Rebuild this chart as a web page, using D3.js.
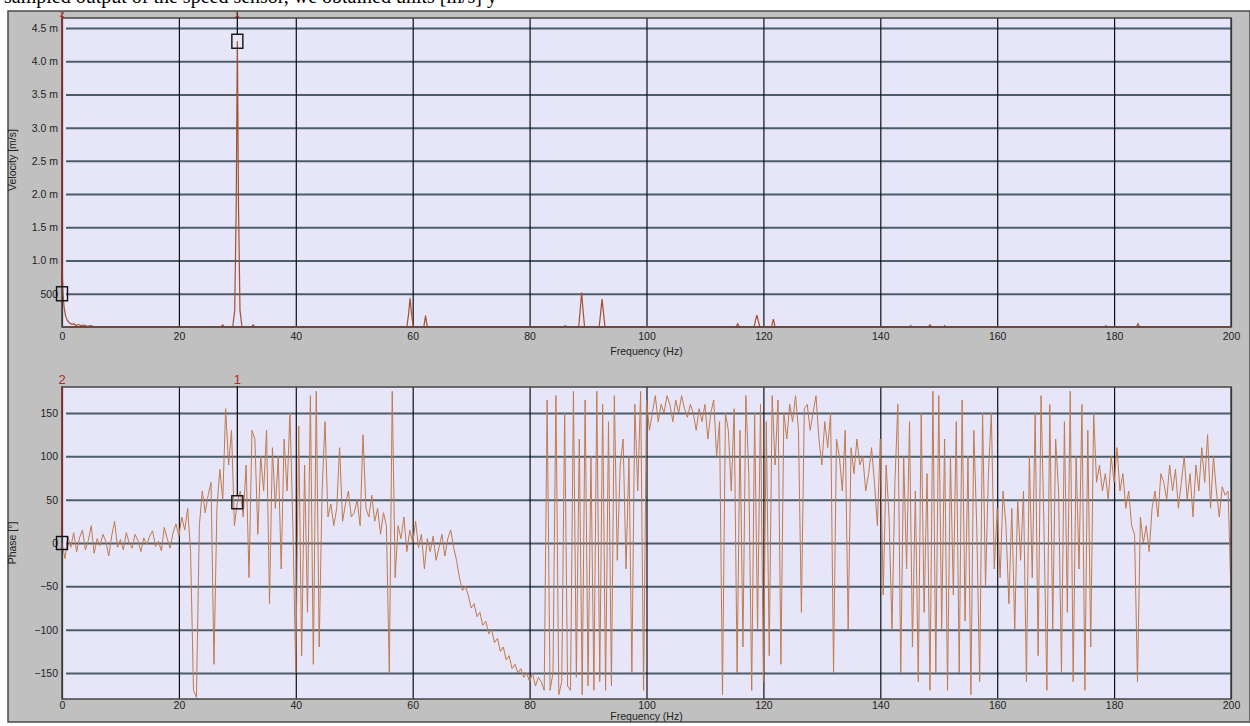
<!DOCTYPE html>
<html>
<head>
<meta charset="utf-8">
<script src="https://cdn.jsdelivr.net/npm/d3@7"></script>
<style>
  html, body { margin: 0; padding: 0; background: #ffffff; }
  svg { display: block; }
  text { font-family: "Liberation Sans", Arial, sans-serif; }
</style>
</head>
<body>
<svg id="chart" width="1250" height="726"></svg>
<script>
// ---------------- DATA ----------------
const freqTicks = [0, 20, 40, 60, 80, 100, 120, 140, 160, 180, 200];
const velTicks = [0.5, 1.0, 1.5, 2.0, 2.5, 3.0, 3.5, 4.0, 4.5];
const velTickLabels = ["500", "1.0 m", "1.5 m", "2.0 m", "2.5 m", "3.0 m", "3.5 m", "4.0 m", "4.5 m"];
const phaseTicks = [-150, -100, -50, 0, 50, 100, 150];

// Velocity amplitude spectrum (Hz, m/s)
const ampFreq = [0, 0.15, 0.35, 0.6, 0.9, 1.3, 1.7, 2.0, 2.4, 2.8, 3.2, 3.8, 4.3, 5.0, 5.5,
  27.2, 27.5, 27.8,
  29.2, 29.55, 29.8, 30.0, 30.2, 30.45, 30.8,
  32.4, 32.7, 33.0,
  59.0, 59.3, 59.55, 59.8, 60.1,
  61.9, 62.2, 62.5,
  85.8, 86.1, 86.4,
  88.4, 88.7, 88.9, 89.1, 89.4,
  91.9, 92.2, 92.4, 92.6, 92.9,
  115.3, 115.6, 115.9,
  118.4, 118.7, 118.9, 119.1, 119.4,
  121.4, 121.7, 122.0,
  145.0, 145.2, 145.4,
  148.2, 148.5, 148.8,
  150.8, 151.0, 151.2,
  178.4, 178.6, 178.8,
  183.8, 184.1, 184.4,
  200];
const ampValue = [0.95, 0.55, 0.30, 0.17, 0.10, 0.06, 0.04, 0.05, 0.02, 0.04, 0.02, 0.03, 0.01, 0.02, 0.0,
  0.0, 0.03, 0.0,
  0.0, 0.25, 1.8, 4.3, 1.8, 0.25, 0.0,
  0.0, 0.03, 0.0,
  0.0, 0.2, 0.43, 0.2, 0.0,
  0.0, 0.17, 0.0,
  0.0, 0.02, 0.0,
  0.0, 0.3, 0.52, 0.3, 0.0,
  0.0, 0.25, 0.42, 0.25, 0.0,
  0.0, 0.05, 0.0,
  0.0, 0.12, 0.18, 0.1, 0.0,
  0.0, 0.12, 0.0,
  0.0, 0.02, 0.0,
  0.0, 0.03, 0.0,
  0.0, 0.02, 0.0,
  0.0, 0.02, 0.0,
  0.0, 0.05, 0.0,
  0.0];

// Phase (degrees) every 0.5 Hz, 0 .. 200 Hz
const phaseStep = 0.5;
const phaseValue = [
  // 0-10
  0, -18, 8, -5, 12, -10, 6, 15, -8, 3, 20, -12, 5, -3, 10, 2, -15, 8, 25, -5,
  // 10-20
  4, -8, 12, 0, -6, 10, 3, -10, 6, -2, 8, 14, -4, 2, -9, 18, 5, -6, 12, 22,
  // 20-30
  8, 30, 15, 40, -10, -170, -178, 20, 60, 35, 55, 70, -140, 40, 85, 50, 155, 90, 130, 20,
  // 30-40
  47, 60, 30, 90, -40, 130, 120, 10, 100, 60, 130, -70, 110, 40, 100, -30, 120, 60, 150, 20,
  // 40-50
  -150, 135, -130, 90, -80, 170, -140, 175, -120, 60, 140, 30, 45, 20, 40, 110, 25, 45, 60, 30,
  // 50-60
  35, 50, 20, 125, 40, 30, 55, 25, 40, 10, 35, 20, -150, 175, -40, 20, 5, 30, -10, 15,
  // 60-70
  0, 25, -5, 10, -30, 5, -10, 8, -20, -5, 10, -15, 5, 15, -5, -20, -40, -55, -50, -60,
  // 70-80
  -75, -70, -85, -80, -95, -90, -105, -100, -115, -110, -125, -120, -135, -130, -145, -140, -150, -145, -155, -150,
  // 80-90
  -160, -150, -165, -155, -160, -170, 165, -170, -150, 170, -175, -160, 150, -165, -170, 175, -155, 120, -175, 165,
  // 90-100
  -165, 100, -170, 175, -160, 160, -170, 140, -165, 170, -20, 90, 120, -30, 100, -150, 160, 60, 175, -170,
  // 100-110
  165, 130, 150, 170, 140, 160, 150, 170, 160, 140, 165, 150, 170, 155, 145, 160, 150, 130, 155, 140,
  // 110-120
  160, 120, 150, 165, 100, 140, -175, 150, 130, 60, 155, -150, 130, -120, 170, 80, -170, 150, -100, 160,
  // 120-130
  -160, 140, -130, 170, 90, 165, -140, 150, 120, 160, 140, 170, 130, -80, 155, 160, 130, 150, 170, 120,
  // 130-140
  90, 140, 110, 150, -150, 120, 100, 60, 130, -100, 110, 80, 120, 90, 100, 60, 80, 110, 70, 20,
  // 140-150
  120, -60, 90, 30, -100, 70, 160, -150, 100, -30, 140, -120, 60, -160, 150, -80, 80, -170, 175, -150,
  // 150-160
  170, -100, 120, -170, 100, -60, 140, -150, 165, -90, 100, -175, 130, 20, -160, 150, -50, 80, 150, -30,
  // 160-170
  40, -40, 60, 20, -70, 40, -100, 50, -20, 60, -160, 100, -40, 150, -130, 170, 20, -170, 160, -100,
  // 170-180
  120, 60, -150, 140, -80, 175, -160, 100, -30, 160, -170, 130, -120, 150, 70, 90, 60, 80, 50, 100,
  // 180-190
  70, 110, 60, 80, 40, 60, 20, 10, -160, 30, 0, 20, -10, 40, 60, 30, 80, 70, 50, 90,
  // 190-200
  60, 85, 40, 70, 100, 50, 80, 30, 90, 60, 110, 70, 125, 40, 100, 60, 30, 65, 55, 60,
  // 200
  -60
];

// Cursors
const cursorName = ["2", "1"];
const cursorFreq = [0, 30];
const cursorVel = [0.5, 4.3];
const cursorPhase = [0, 47];

// ---------------- DRAW ----------------
const svg = d3.select("#chart");
const W = 1250, H = 726;

const x = d3.scaleLinear().domain([0, 200]).range([62, 1231]);
const yV = d3.scaleLinear().domain([0, 4.65]).range([327, 18]);
const yP = d3.scaleLinear().domain([-180, 180]).range([699, 387]);

// clipped document text above the panel
svg.append("text")
  .attr("x", 4).attr("y", 3)
  .style("font-family", "'Liberation Serif', 'DejaVu Serif', serif")
  .attr("font-size", 20)
  .attr("fill", "#000")
  .text("sampled output of the speed sensor, we obtained units [m/s] y");

// panel
svg.append("rect").attr("x", 8).attr("y", 11).attr("width", W - 8).attr("height", 711)
  .attr("fill", "#c0c0c0").attr("stroke", "#4a4a4a").attr("stroke-width", 1.5);

const defs = svg.append("defs");
defs.append("clipPath").attr("id", "clipV").append("rect")
  .attr("x", 62).attr("y", 18).attr("width", 1169).attr("height", 309);
defs.append("clipPath").attr("id", "clipP").append("rect")
  .attr("x", 62).attr("y", 387).attr("width", 1169).attr("height", 312);
defs.append("clipPath").attr("id", "clipTop").append("rect")
  .attr("x", 0).attr("y", 12).attr("width", W).attr("height", 10);

function drawPlot(y, top, bottom, yTicks, yFmt, tickDy, labelDy) {
  const g = svg.append("g");
  g.append("rect").attr("x", 62).attr("y", top).attr("width", 1169).attr("height", bottom - top)
    .attr("fill", "#e6e6f8");
  const gy = g.append("g").attr("transform", "translate(62,0)")
    .call(d3.axisLeft(y).tickValues(yTicks).tickSize(-1169).tickSizeOuter(0).tickFormat(yFmt));
  gy.select(".domain").remove();
  gy.selectAll(".tick line").attr("stroke", "#4d5d68").attr("stroke-width", 2).attr("x1", 4);
  gy.selectAll(".tick text").attr("x", -4).attr("font-size", 10.5).attr("fill", "#222");
  const gx = g.append("g").attr("transform", `translate(0,${bottom})`)
    .call(d3.axisBottom(x).tickValues(freqTicks).tickSize(-(bottom - top)).tickSizeOuter(0).tickFormat(d3.format("d")));
  gx.select(".domain").remove();
  gx.selectAll(".tick line").attr("stroke", "#111").attr("stroke-width", 1.2);
  gx.selectAll(".tick text").attr("y", tickDy).attr("font-size", 10.5).attr("fill", "#222");
  g.append("text").attr("x", x(100)).attr("y", bottom + labelDy).attr("text-anchor", "middle")
    .attr("font-size", 10.5).attr("fill", "#222").text("Frequency (Hz)");
  return g;
}

// ---- Velocity plot ----
const gV = drawPlot(yV, 18, 327, velTicks, (d, i) => velTickLabels[i], 6, 28);
gV.append("text").attr("transform", "translate(16,160) rotate(-90)").attr("text-anchor", "middle")
  .attr("font-size", 10.5).attr("fill", "#222").text("Velocity [m/s]");

const ampData = ampFreq.map((f, i) => [f, ampValue[i]]);
gV.append("path").datum(ampData)
  .attr("clip-path", "url(#clipV)")
  .attr("fill", "none").attr("stroke", "#a4502e").attr("stroke-width", 1.2)
  .attr("d", d3.line().x(d => x(d[0])).y(d => yV(d[1])));

gV.append("rect").attr("x", 62).attr("y", 18).attr("width", 1169).attr("height", 309)
  .attr("fill", "none").attr("stroke", "#444").attr("stroke-width", 1.5);
gV.append("line").attr("x1", 62).attr("x2", 1231).attr("y1", 327).attr("y2", 327)
  .attr("stroke", "#6a4a40").attr("stroke-width", 2);

// ---- Phase plot ----
const gP = drawPlot(yP, 387, 699, phaseTicks, d3.format("d"), 3, 21);
gP.append("text").attr("transform", "translate(16,543) rotate(-90)").attr("text-anchor", "middle")
  .attr("font-size", 10.5).attr("fill", "#222").text("Phase [°]");

const phaseData = phaseValue.map((v, i) => [i * phaseStep, v]);
gP.append("path").datum(phaseData)
  .attr("clip-path", "url(#clipP)")
  .attr("fill", "none").attr("stroke", "#c07a4e").attr("stroke-width", 1)
  .attr("d", d3.line().x(d => x(d[0])).y(d => yP(d[1])));

gP.append("rect").attr("x", 62).attr("y", 387).attr("width", 1169).attr("height", 312)
  .attr("fill", "none").attr("stroke", "#444").attr("stroke-width", 1.5);

// ---- Cursors ----
cursorFreq.forEach((f, i) => {
  const cx = x(f);
  const lineColor = i === 0 ? "#9a2a2a" : "#111";
  svg.append("line").attr("x1", cx).attr("x2", cx).attr("y1", 12).attr("y2", yV(cursorVel[i]) - 7)
    .attr("stroke", lineColor).attr("stroke-width", 1.3);
  svg.append("text").attr("x", cx).attr("y", 17).attr("text-anchor", "middle")
    .attr("clip-path", "url(#clipTop)")
    .attr("font-size", 9).attr("fill", "#b02a2a").text(cursorName[i]);
  svg.append("rect").attr("x", cx - 5.5).attr("y", yV(cursorVel[i]) - 7).attr("width", 11).attr("height", 14)
    .attr("fill", "none").attr("stroke", "#111").attr("stroke-width", 1.4);
  svg.append("line").attr("x1", cx).attr("x2", cx).attr("y1", 386).attr("y2", yP(cursorPhase[i]) - 6.5)
    .attr("stroke", lineColor).attr("stroke-width", 1.3);
  svg.append("text").attr("x", cx).attr("y", 384).attr("text-anchor", "middle")
    .attr("font-size", 13).attr("fill", "#b02a2a").text(cursorName[i]);
  svg.append("rect").attr("x", cx - 5.5).attr("y", yP(cursorPhase[i]) - 6.5).attr("width", 11).attr("height", 13)
    .attr("fill", "none").attr("stroke", "#111").attr("stroke-width", 1.4);
});
</script>
</body>
</html>
